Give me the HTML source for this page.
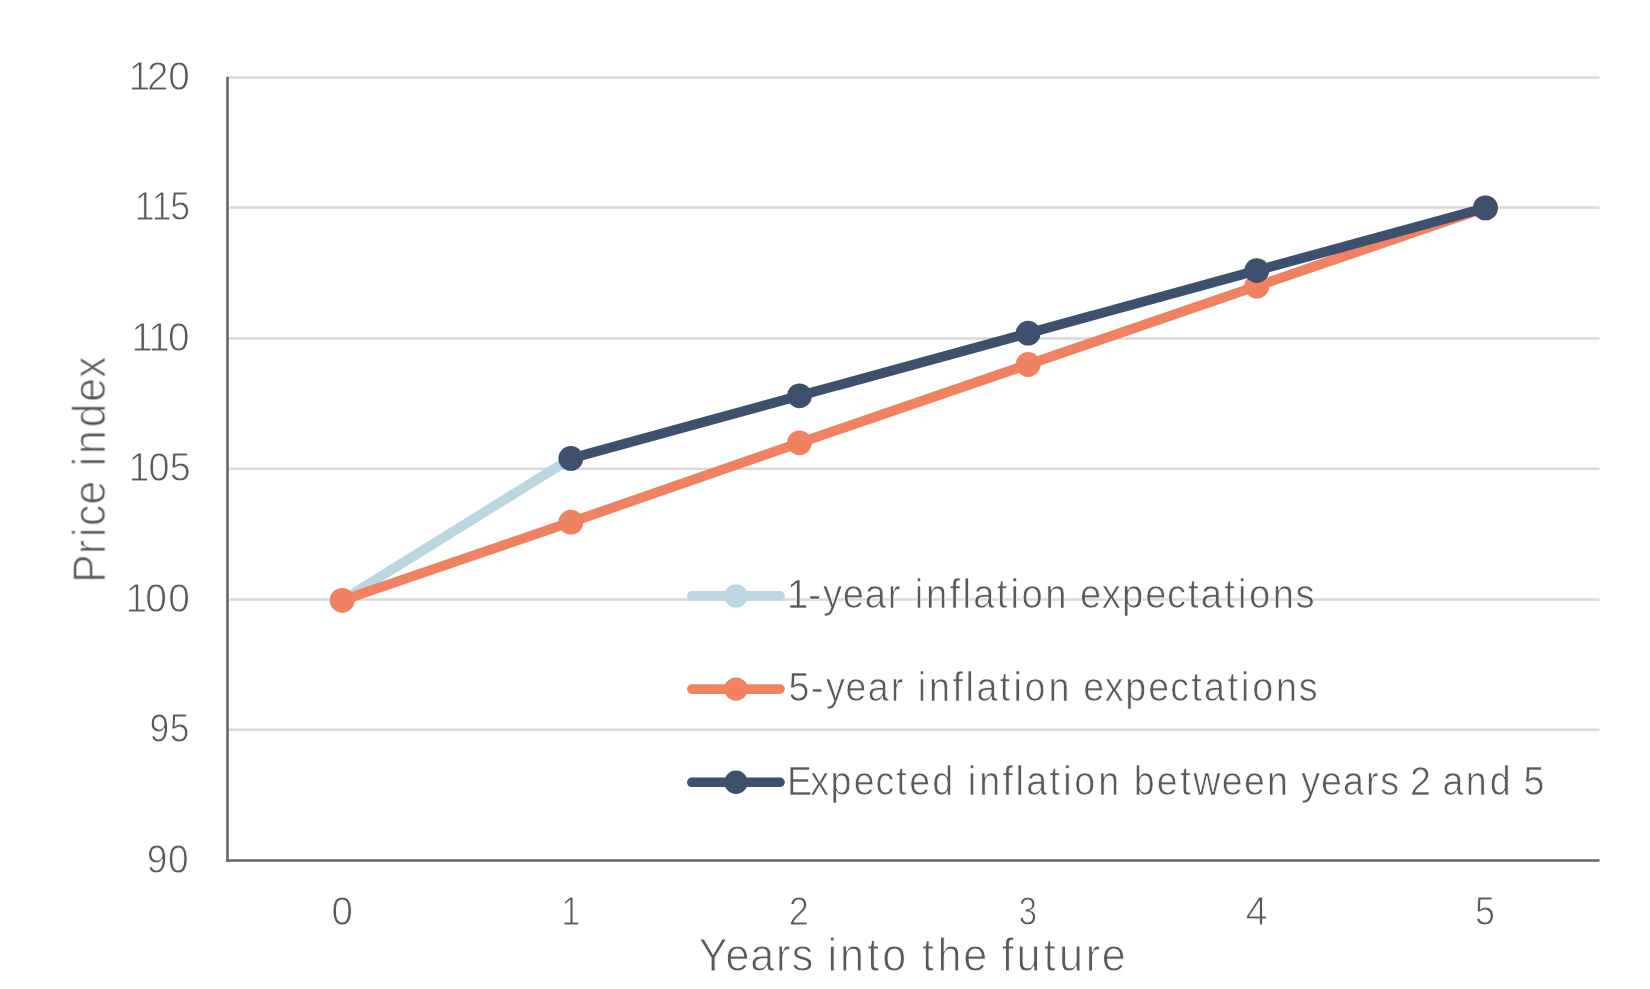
<!DOCTYPE html>
<html><head><meta charset="utf-8"><title>Price index: inflation expectations</title>
<style>
html,body{margin:0;padding:0;background:#fff;}
body{width:1650px;height:989px;overflow:hidden;}
svg{display:block;}
text{font-family:"Liberation Sans",Arial,sans-serif;fill:#595959;stroke:#fff;font-kerning:none;}
.tk{font-size:40.3px;}
.lg{font-size:41.2px;}
.ti{font-size:46px;}
</style></head>
<body>
<svg width="1650" height="989" viewBox="0 0 1650 989">
<rect width="1650" height="989" fill="#fff"/>
<line x1="228.8" y1="77.50" x2="1599.5" y2="77.50" stroke="#d9d9d9" stroke-width="2.5"/>
<line x1="228.8" y1="207.50" x2="1599.5" y2="207.50" stroke="#d9d9d9" stroke-width="2.5"/>
<line x1="228.8" y1="338.60" x2="1599.5" y2="338.60" stroke="#d9d9d9" stroke-width="2.5"/>
<line x1="228.8" y1="468.80" x2="1599.5" y2="468.80" stroke="#d9d9d9" stroke-width="2.5"/>
<line x1="228.8" y1="599.60" x2="1599.5" y2="599.60" stroke="#d9d9d9" stroke-width="2.5"/>
<line x1="228.8" y1="729.80" x2="1599.5" y2="729.80" stroke="#d9d9d9" stroke-width="2.5"/>
<line x1="227.5" y1="76.8" x2="227.5" y2="861.7" stroke="#5e686c" stroke-width="2.6"/>
<line x1="226.2" y1="860.45" x2="1599.5" y2="860.45" stroke="#5e686c" stroke-width="2.6"/>
<g opacity="0.999">
<text class="tk" transform="translate(0,89.90) scale(0.9600,1.0000)" x="134.01 153.15 175.24" style="stroke-width:0.90px">120</text>
<text class="tk" transform="translate(0,219.90) scale(0.8850,1.0000)" x="152.19 171.38 192.28" style="stroke-width:0.90px">115</text>
<text class="tk" transform="translate(0,351.00) scale(0.9600,1.0000)" x="136.63 154.40 175.11" style="stroke-width:0.90px">110</text>
<text class="tk" transform="translate(0,481.20) scale(0.9370,1.0000)" x="137.08 158.37 181.30" style="stroke-width:0.90px">105</text>
<text class="tk" transform="translate(0,612.00) scale(0.9670,1.0000)" x="129.69 150.32 173.88" style="stroke-width:0.90px">100</text>
<text class="tk" transform="translate(0,742.20) scale(0.8780,1.0000)" x="170.39 193.33" style="stroke-width:0.90px">95</text>
<text class="tk" transform="translate(0,872.85) scale(0.9190,1.0000)" x="159.62 182.77" style="stroke-width:0.90px">90</text>
<text class="tk" transform="translate(0,924.90) scale(0.9550,1.0000)" x="347.07" style="stroke-width:0.90px">0</text>
<text class="tk" transform="translate(0,924.90) scale(0.8400,1.0000)" x="668.39" style="stroke-width:0.90px">1</text>
<text class="tk" transform="translate(0,924.90) scale(0.9000,1.0000)" x="876.44" style="stroke-width:0.90px">2</text>
<text class="tk" transform="translate(0,924.90) scale(0.8100,1.0000)" x="1257.82" style="stroke-width:0.90px">3</text>
<text class="tk" transform="translate(0,924.90) scale(0.9750,1.0000)" x="1277.61" style="stroke-width:0.90px">4</text>
<text class="tk" transform="translate(0,924.90) scale(0.8930,1.0000)" x="1651.78" style="stroke-width:0.90px">5</text>
<text class="lg" transform="translate(0,607.70) scale(0.9270,1.0000)" x="849.10 871.85 887.78 909.01 932.92 957.78 973.44 986.84 999.00 1024.25 1038.41 1049.97 1075.26 1090.03 1101.90 1127.66 1152.63 1165.07 1188.41 1210.45 1235.35 1258.92 1281.56 1295.37 1320.66 1335.43 1347.30 1373.05 1397.58" style="stroke-width:0.70px">1-year inflation expectations</text>
<text class="lg" transform="translate(0,701.20) scale(0.9140,1.0000)" x="862.69 887.39 903.61 925.18 949.44 974.61 990.49 1004.07 1016.52 1042.06 1056.41 1068.25 1093.83 1108.82 1120.97 1147.10 1172.36 1185.08 1208.75 1231.13 1256.42 1280.32 1303.22 1317.34 1342.93 1357.89 1370.05 1396.19 1421.06" style="stroke-width:0.70px">5-year inflation expectations</text>
<text class="lg" transform="translate(0,794.80) scale(0.9130,1.0000)" x="862.03 887.41 909.77 935.01 958.88 981.77 995.85 1021.19 1046.46 1060.01 1072.44 1097.95 1112.29 1124.10 1149.64 1164.61 1176.74 1202.85 1228.07 1241.79 1267.04 1292.60 1306.93 1338.24 1362.47 1387.78 1413.02 1425.33 1446.87 1471.09 1496.23 1511.71 1533.08 1544.48 1567.34 1580.04 1605.36 1631.78 1657.04 1668.62" style="stroke-width:0.70px">Expected inflation between years 2 and 5</text>
<text class="ti" transform="translate(0,970.80) scale(0.9370,0.9900)" x="745.77 774.35 800.70 828.20 844.93 868.30 883.08 896.41 925.55 941.57 968.87 984.12 1000.47 1028.01 1054.44 1069.20 1084.92 1113.95 1130.17 1158.71 1175.93" style="stroke-width:0.98px">Years into the future</text>
<text class="ti" transform="translate(104.90,0) rotate(-90) scale(0.9290,0.9900)" x="-627.30 -596.49 -578.17 -566.44 -543.07 -516.68 -501.94 -488.67 -460.00 -432.51 -406.81" style="stroke-width:0.98px">Price index</text>
</g>
<path d="M342.20,600.33 L570.85,458.47" fill="none" stroke="#bad7e1" stroke-width="9.8" stroke-linejoin="round" stroke-linecap="round"/>
<circle cx="342.20" cy="600.33" r="12.4" fill="#bad7e1"/>
<circle cx="570.85" cy="458.47" r="12.4" fill="#bad7e1"/>
<path d="M342.20,600.33 L570.85,522.22 L799.50,442.81 L1028.15,364.50 L1256.80,286.19 L1485.45,207.88" fill="none" stroke="#f08161" stroke-width="9.8" stroke-linejoin="round" stroke-linecap="round"/>
<circle cx="342.20" cy="600.33" r="12.4" fill="#f08161"/>
<circle cx="570.85" cy="522.22" r="12.4" fill="#f08161"/>
<circle cx="799.50" cy="442.81" r="12.4" fill="#f08161"/>
<circle cx="1028.15" cy="364.50" r="12.4" fill="#f08161"/>
<circle cx="1256.80" cy="286.19" r="12.4" fill="#f08161"/>
<circle cx="1485.45" cy="207.88" r="12.4" fill="#f08161"/>
<path d="M570.85,458.47 L799.50,395.83 L1028.15,333.18 L1256.80,270.53 L1485.45,207.88" fill="none" stroke="#3d506e" stroke-width="9.8" stroke-linejoin="round" stroke-linecap="round"/>
<circle cx="570.85" cy="458.47" r="12.4" fill="#3d506e"/>
<circle cx="799.50" cy="395.83" r="12.4" fill="#3d506e"/>
<circle cx="1028.15" cy="333.18" r="12.4" fill="#3d506e"/>
<circle cx="1256.80" cy="270.53" r="12.4" fill="#3d506e"/>
<circle cx="1485.45" cy="207.88" r="12.4" fill="#3d506e"/>
<line x1="691.8" y1="595.90" x2="780" y2="595.90" stroke="#bad7e1" stroke-width="9.6" stroke-linecap="round"/>
<circle cx="736" cy="595.90" r="11.7" fill="#bad7e1"/>
<line x1="691.8" y1="689.10" x2="780" y2="689.10" stroke="#f08161" stroke-width="9.6" stroke-linecap="round"/>
<circle cx="736" cy="689.10" r="11.7" fill="#f08161"/>
<line x1="691.8" y1="782.30" x2="780" y2="782.30" stroke="#3d506e" stroke-width="9.6" stroke-linecap="round"/>
<circle cx="736" cy="782.30" r="11.7" fill="#3d506e"/>
</svg>
</body></html>
